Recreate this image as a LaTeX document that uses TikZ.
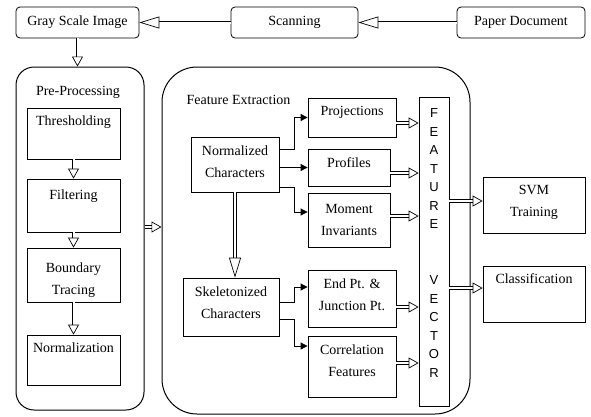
\documentclass[tikz,border=0pt]{standalone}
\usepackage{fontspec}
\setmainfont{Liberation Serif}
\setsansfont{Liberation Sans}
\usetikzlibrary{calc}
\usetikzlibrary{arrows.meta}
\def\Step{15}
\def\VecSkip{18.57}

\begin{document}
\begin{tikzpicture}[x=1pt,y=1pt,
  font=\fontsize{14}{22}\selectfont,
  box/.style={draw, line width=.8pt, inner sep=1pt, align=center},
  topbox/.style={box, rounded corners=4pt, minimum width=#1, minimum height=31},
  group/.style={draw, line width=1pt},
  vec/.style={font=\sffamily\fontsize{13}{15}\selectfont, inner sep=0pt},
  dbl/.style={double, double distance=2pt, line width=.7pt,
    -{Triangle[open, length=10pt, width=11pt]}},
  longdbl/.style={dbl, -{Triangle[open, length=20pt, width=12pt]}},
  arr/.style={line width=.8pt, -{Triangle[length=7pt, width=7pt]}}]
  \useasboundingbox (0,0) rectangle (591,-416);
  % top row
  \node[topbox=123] (gray) at (77.5,-22.5) {Gray Scale Image};
  \node[topbox=127] (scan) at (294.5,-22.5) {Scanning};
  \node[topbox=128] (paper) at (521,-22.5) {Paper Document};
  % pre-processing
  \node[group, rounded corners=18pt, minimum width=128, minimum height=343] (pre) at (80,-238.5) {};
  \node (prelabel) at (78,-92) {Pre-Processing};
  \node[box, minimum width=93, minimum height=51] (thr) at (73.5,-133.5) {};
  \node[box, minimum width=93, minimum height=53] (fil) at (73.5,-205.5) {};
  \node[box, minimum width=93, minimum height=54] (bnd) at (73.5,-275) {};
  \node[box, minimum width=93, minimum height=50] (nrm) at (73.5,-360) {};
  \node[below=5pt] (thrtext) at (thr.north) {Thresholding};
  \node[below=8pt] (filtext) at (fil.north) {Filtering};
  \node[align=center, yshift=-5pt] (bndtext) at (bnd.center) {Boundary\\Tracing};
  \node[below=5pt] (nrmtext) at (nrm.north) {Normalization};
  % feature extraction
  \node[group, rounded corners=35pt, minimum width=308, minimum height=347] (feat) at (316,-240.5) {};
  \node (featlabel) at (238.5,-100) {Feature Extraction};
  \node[box, minimum width=88, minimum height=55, text depth=6pt] (nc) at (235,-164.5) {Normalized\\Characters};
  \node[box, minimum width=88, minimum height=39, text depth=13pt] (proj) at (352,-117.5) {Projections};
  \node[box, minimum width=82, minimum height=37, text depth=9pt] (prof) at (349,-167.5) {Profiles};
  \node[box, minimum width=82, minimum height=54] (mom) at (349,-220) {Moment\\Invariants};
  \node[box, minimum width=96, minimum height=58, text depth=8pt] (sk) at (231,-307) {Skeletonized\\Characters};
  \node[box, minimum width=88, minimum height=57, text depth=8pt] (end) at (352,-298.5) {End Pt. \&\\Junction Pt.};
  \node[box, minimum width=88, minimum height=61, text depth=12pt] (cor) at (352,-366.5) {Correlation\\Features};
  % feature vector
  \node[box, minimum width=30, minimum height=309] (fv) at (434,-251.5) {};
  \foreach \ch/\k in {F/0,E/1,A/2,T/3,U/4,R/5,E/6,V/9,E/10,C/11,T/12,O/13,R/14}
    \node[vec] (fv\k) at (434,-113-\VecSkip*\k) {\ch};
  % output
  \node[box, minimum width=102, minimum height=56, text depth=8pt] (svm) at (534,-205) {SVM\\Training};
  \node[box, minimum width=102, minimum height=56] (cls) at (534,-294) {};
  \node[below=5pt] (clstext) at (cls.north) {Classification};
  % double arrows
  \draw[longdbl] (paper.west) -- (scan.east);
  \draw[longdbl] (scan.west) -- (gray.east);
  \draw[dbl] (gray.south) -- (gray.south |- pre.north);
  \draw[dbl] (thr.south) -- (fil.north);
  \draw[dbl] (fil.south) -- (bnd.north);
  \draw[dbl] (bnd.south) -- (nrm.north);
  \coordinate (pf) at (0,-227);
  \draw[dbl] (pre.east |- pf) -- (feat.west |- pf);
  \draw[longdbl] (nc.south) -- (nc.south |- sk.north);
  \draw[dbl] ($(proj.east)+(0,-5.5)$) -- ($(proj.east -| fv.west)+(0,-5.5)$);
  \draw[dbl] ($(prof.east)+(0,-5.5)$) -- ($(prof.east -| fv.west)+(0,-5.5)$);
  \draw[dbl] ($(mom.east)+(0,4)$) -- ($(mom.east -| fv.west)+(0,4)$);
  \draw[dbl] ($(end.east)+(0,-8.5)$) -- ($(end.east -| fv.west)+(0,-8.5)$);
  \draw[dbl] ($(cor.east)+(0,3.5)$) -- ($(cor.east -| fv.west)+(0,3.5)$);
  \draw[dbl] ($(svm.west -| fv.east)+(0,4)$) -- ($(svm.west)+(0,4)$);
  \draw[dbl] ($(cls.west -| fv.east)+(0,6)$) -- ($(cls.west)+(0,6)$);
  % single arrows
  \draw[arr] ($(nc.east)+(0,15.5)$) -- ++(\Step,0) |- (proj.west);
  \draw[arr] (nc.east |- prof.west) -- (prof.west);
  \draw[arr] ($(nc.east)+(0,-22.5)$) -- ++(\Step,0) |- ($(mom.west)+(0,8)$);
  \draw[arr] ($(sk.east)+(0,5)$) -- ++(\Step,0) |- ($(end.west)+(0,11.5)$);
  \draw[arr] ($(sk.east)+(0,-12)$) -- ++(\Step,0) |- ($(cor.west)+(0,20.5)$);
\end{tikzpicture}
\end{document}
